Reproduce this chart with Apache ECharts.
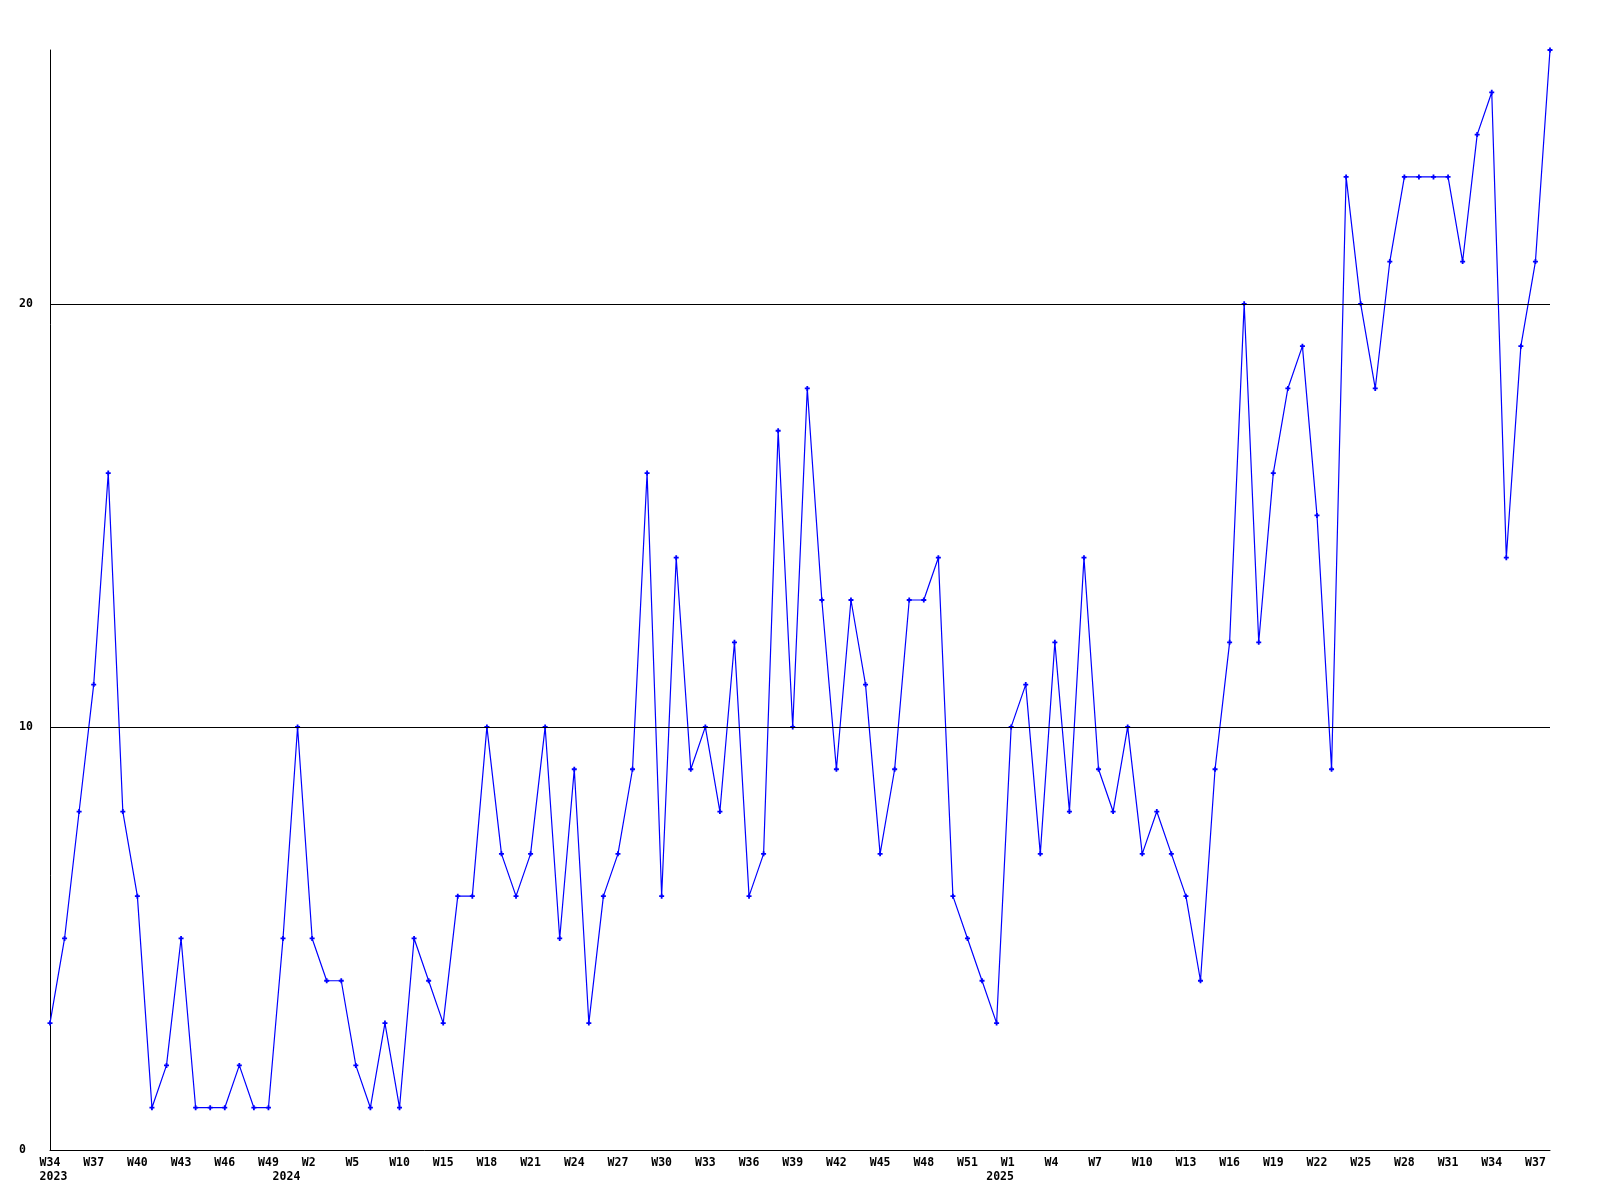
<!DOCTYPE html>
<html><head><meta charset="utf-8">
<script src="https://cdn.jsdelivr.net/npm/echarts@6/dist/echarts.min.js"></script>
<style>html,body{margin:0;padding:0;background:#fff}#c{width:1600px;height:1200px}</style>
</head><body><div id="c"></div>
<script>
const weeks = [
  'W34','W35','W36','W37','W38','W39','W40','W41','W42','W43','W44','W45','W46','W47','W48','W49','W51',
  'W1','W2','W3','W4','W5','W7','W8','W10','W12','W14','W15','W16','W17','W18','W19','W20','W21','W22','W23','W24','W25','W26','W27','W28','W29','W30','W31','W32','W33','W34','W35','W36','W37','W38','W39','W40','W41','W42','W43','W44','W45','W46','W47','W48','W49','W50','W51','W52','W53',
  'W1','W2','W3','W4','W5','W6','W7','W8','W9','W10','W11','W12','W13','W14','W15','W16','W17','W18','W19','W20','W21','W22','W23','W24','W25','W26','W27','W28','W29','W30','W31','W32','W33','W34','W35','W36','W37','W38'
];
const yearLabels = {0: '2023', 16: '2024', 65: '2025'};
const values = [
  3,5,8,11,16,8,6,1,2,5,1,1,1,2,1,1,5,10,
  5,4,4,2,1,3,1,5,4,3,6,6,10,7,6,7,10,5,9,3,6,7,9,16,6,14,9,10,8,12,6,7,17,10,18,13,9,13,11,7,9,13,13,14,6,5,4,3,
  10,11,7,12,8,14,9,8,10,7,8,7,6,4,9,12,20,12,16,18,19,15,9,23,20,18,21,23,23,23,23,21,24,25,14,19,21,26
];
const labelStep = 3;
const yMax = 26;
const yInterval = 10;
const gridValues = [10, 20];

const font = '"DejaVu Sans Mono", "Liberation Mono", monospace';
function pad3(s) { while (s.length < 3) s += ' '; return s; }
const chart = echarts.init(document.getElementById('c'), null, {renderer: 'canvas'});
chart.setOption({
  animation: false,
  backgroundColor: '#ffffff',
  grid: {left: 50, right: 50, top: 50, bottom: 50, containLabel: false},
  xAxis: {
    type: 'category',
    data: weeks,
    boundaryGap: false,
    axisLine: {show: true, lineStyle: {color: '#000', width: 1}},
    axisTick: {show: false},
    splitLine: {show: false},
    axisLabel: {
      interval: function (i) { return i % labelStep === 0 || !!yearLabels[i]; },
      hideOverlap: false,
      margin: 6,
      color: '#000',
      fontFamily: font,
      fontWeight: 'bold',
      fontSize: 11.5,
      lineHeight: 14,
      formatter: function (v, i) {
        const top = i % labelStep === 0 ? pad3(v) : '   ';
        return yearLabels[i] ? top + '\n ' + yearLabels[i] : top;
      }
    }
  },
  yAxis: {
    type: 'value',
    min: 0,
    max: yMax,
    interval: yInterval,
    axisLine: {show: true, lineStyle: {color: '#000', width: 1}},
    axisTick: {show: false},
    splitLine: {show: false},
    axisLabel: {
      align: 'left',
      margin: 31,
      color: '#000',
      fontFamily: font,
      fontWeight: 'bold',
      fontSize: 11.5,
      showMaxLabel: false,
      formatter: function (v) { return v % yInterval === 0 ? String(v) : ''; }
    }
  },
  series: [{
    type: 'line',
    data: values,
    symbol: 'path://M1.6,0H3.4V1.6H5V3.4H3.4V5H1.6V3.4H0V1.6H1.6Z',
    symbolSize: 5,
    showAllSymbol: true,
    lineStyle: {color: '#0000ff', width: 1.2},
    itemStyle: {color: '#0000ff'},
    markLine: {
      silent: true,
      symbol: 'none',
      label: {show: false},
      lineStyle: {color: '#000', width: 1, type: 'solid'},
      data: gridValues.map(function (g) { return {yAxis: g}; })
    }
  }]
});
</script></body></html>
